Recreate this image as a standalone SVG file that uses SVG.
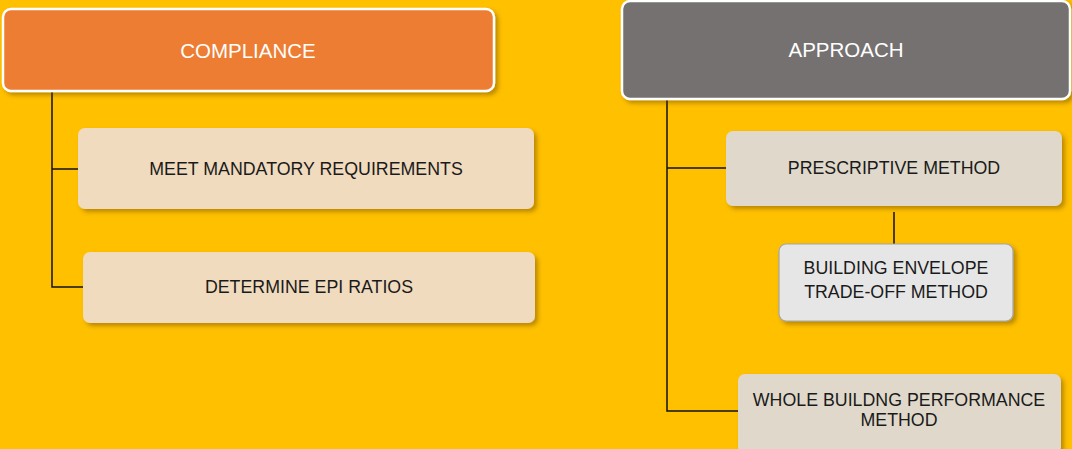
<svg xmlns="http://www.w3.org/2000/svg" width="1072" height="449" viewBox="0 0 1072 449">
<defs>
<filter id="sh" x="-10%" y="-20%" width="125%" height="150%">
<feDropShadow dx="3" dy="3" stdDeviation="2" flood-color="#5a3a00" flood-opacity="0.4"/>
</filter>
<style>
.lbl{font-family:"Liberation Sans",Arial,sans-serif;font-size:17.8px;fill:#1a1a1a;text-anchor:middle;dominant-baseline:central}
.hdr{font-family:"Liberation Sans",Arial,sans-serif;font-size:20.5px;fill:#ffffff;text-anchor:middle;dominant-baseline:central}
.con{stroke:#111;stroke-width:1.5;fill:none}
.peach{fill:#F1DBBF}
.beige{fill:#E0D9CB}
</style>
</defs>
<rect width="1072" height="449" fill="#FFC000"/>
<g id="connectors">
<path class="con" d="M52 91 V287 H83 M52 169 H78"/>
<path class="con" d="M667 99 V411 H738 M667 168 H726"/>
<path class="con" d="M894 212 V244"/>
</g>
<g id="compliance">
<rect x="3" y="9" width="491" height="82" rx="8" fill="#ED7D31" stroke="#ffffff" stroke-width="2.5" filter="url(#sh)"/>
<text class="hdr" x="248" y="50">COMPLIANCE</text>
</g>
<g id="mandatory">
<rect class="peach" x="78" y="128" width="456" height="81" rx="7" filter="url(#sh)"/>
<text class="lbl" x="306" y="169">MEET MANDATORY REQUIREMENTS</text>
</g>
<g id="epi">
<rect class="peach" x="83" y="252" width="452" height="71" rx="7" filter="url(#sh)"/>
<text class="lbl" x="309" y="287">DETERMINE EPI RATIOS</text>
</g>
<g id="approach">
<rect x="622" y="1" width="448" height="98" rx="8" fill="#767171" stroke="#ffffff" stroke-width="2.5" filter="url(#sh)"/>
<text class="hdr" x="846" y="49">APPROACH</text>
</g>
<g id="prescriptive">
<rect class="beige" x="726" y="131" width="336" height="75" rx="7" filter="url(#sh)"/>
<text class="lbl" x="894" y="168">PRESCRIPTIVE METHOD</text>
</g>
<g id="envelope">
<rect x="779" y="244" width="234" height="77" rx="7" fill="#E7E6E6" stroke="#A5A5A5" stroke-width="1.2" filter="url(#sh)"/>
<text class="lbl" x="896" y="268">BUILDING ENVELOPE</text>
<text class="lbl" x="896" y="292">TRADE-OFF METHOD</text>
</g>
<g id="whole">
<rect class="beige" x="738" y="374" width="323" height="80" rx="7" filter="url(#sh)"/>
<text class="lbl" x="899" y="400">WHOLE BUILDNG PERFORMANCE</text>
<text class="lbl" x="899" y="420">METHOD</text>
</g>
</svg>
